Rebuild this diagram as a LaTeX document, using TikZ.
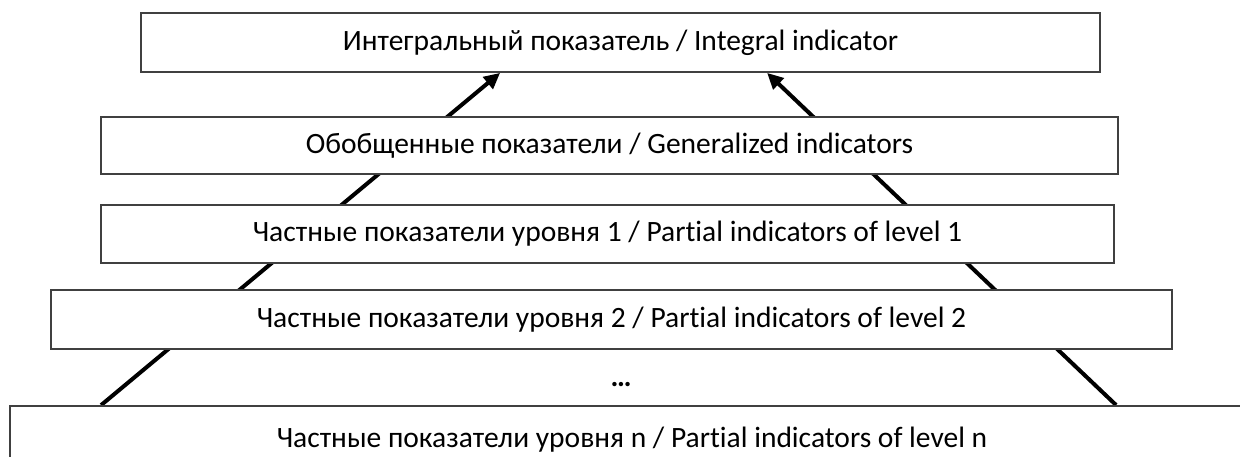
\documentclass[tikz,border=0pt]{standalone}
\usepackage{fontspec}
\setmainfont{Carlito}[Ligatures={NoCommon}]
\usetikzlibrary{arrows.meta,backgrounds}
\tikzset{
  lvl/.style={draw=black!75, line width=1.8pt, fill=white, inner sep=0pt,
    font=\fontsize{29.5}{34}\selectfont, text=black},
  conn/.style={line width=4pt, black, -{Triangle[length=16pt,width=15pt]}}
}
\begin{document}
\begin{tikzpicture}[x=1pt,y=-1pt]
\useasboundingbox (0,0) rectangle (1240,457);
\clip (0,0) rectangle (1240,457);
\node[lvl, minimum width=959pt, minimum height=59pt] (b1) at (620.5,42.5)
  {Интегральный показатель / Integral indicator};
\node[lvl, minimum width=1017pt, minimum height=57pt] (b2) at (609.5,145.5)
  {Обобщенные показатели / Generalized indicators};
\node[lvl, minimum width=1013pt, minimum height=58pt] (b3) at (607.5,234)
  {Частные показатели уровня 1 / Partial indicators of level 1};
\node[lvl, minimum width=1121pt, minimum height=59pt] (b4) at (611.5,319.5)
  {Частные показатели уровня 2 / Partial indicators of level 2};
\node[font=\fontsize{29.5}{34}\selectfont\bfseries, inner sep=0pt] (dots) at (621,385) {…};
\node[lvl, minimum width=1244pt, minimum height=68pt] (b5) at (632,440)
  {Частные показатели уровня n / Partial indicators of level n};
\path (b5.north west) ++(92,0) coordinate (la);
\path (b1.south west) ++(360,0) coordinate (lb);
\path (b5.north west) ++(1107,0) coordinate (ra);
\path (b1.south west) ++(627,0) coordinate (rb);
\begin{pgfonlayer}{background}
\draw[conn] (la) -- (lb);
\draw[conn] (ra) -- (rb);
\end{pgfonlayer}
\end{tikzpicture}
\end{document}
